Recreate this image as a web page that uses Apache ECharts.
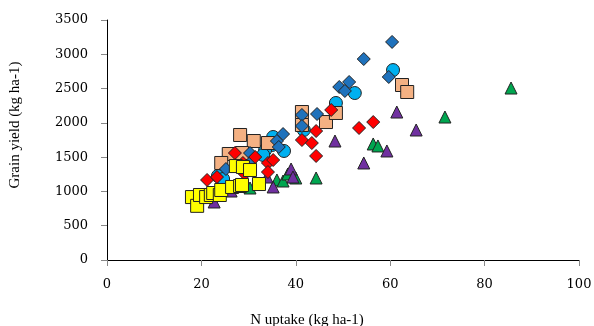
<!DOCTYPE html>
<html><head><meta charset="utf-8">
<script src="https://cdn.jsdelivr.net/npm/echarts@6/dist/echarts.min.js"></script>
<style>html,body{margin:0;padding:0;background:#fff}#c{width:594px;height:326px}</style>
</head><body><div id="c"></div>
<script>
const xTicks = [0, 20, 40, 60, 80, 100];
const yTicks = [0, 500, 1000, 1500, 2000, 2500, 3000, 3500];

const greenTri = [[30.3,1050],[36.0,1167],[37.3,1152],[38.3,1254],[40.0,1196],[44.3,1196],[56.4,1692],[57.4,1663],[71.6,2085],[85.6,2508]];
const purpleTri = [[22.7,846],[26.3,1006],[35.2,1065],[33.9,1210],[39.0,1327],[39.4,1210],[48.3,1735],[54.4,1415],[59.3,1590],[61.4,2158],[65.5,1896]];
const cyanCirc = [[60.6,2770],[52.5,2435],[48.5,2290],[41.7,1896],[35.2,1794],[35.0,1677],[37.5,1590],[33.5,1604],[33.1,1531],[23.5,1225],[24.6,1181]];
const peachSq = [[28.2,1823],[31.1,1735],[34.1,1706],[25.8,1546],[24.2,1415],[28.6,1560],[41.3,2158],[41.3,1969],[46.4,2012],[48.5,2144],[62.5,2552],[63.6,2450]];
const blueDia = [[60.4,3180],[54.4,2931],[59.7,2669],[51.3,2596],[49.2,2523],[50.4,2465],[44.5,2129],[41.3,2115],[41.3,1954],[37.3,1837],[36.0,1735],[36.4,1648],[30.3,1560],[30.3,1415],[28.2,1342],[25.2,1327]];
const redDia = [[21.2,1167],[23.3,1210],[27.1,1560],[28.8,1415],[31.4,1502],[29.2,1254],[34.1,1415],[35.2,1458],[34.1,1283],[47.5,2188],[56.4,2012],[53.4,1925],[44.3,1881],[41.3,1750],[43.4,1706],[44.3,1517]];
const yellowSq = [[18.0,918],[19.1,790],[19.7,948],[21.0,918],[22.0,948],[22.5,977],[23.9,948],[24.2,1021],[26.5,1065],[28.2,1079],[27.3,1370],[28.8,1356],[30.3,1312],[32.2,1108],[28.6,1094]];

const font = 'Liberation Serif';
const tickFont = 'DejaVu Serif';
function s(name, data, symbol, size, color) {
  return {name, type:'scatter', data, symbol, symbolSize:size,
    itemStyle:{color, borderColor:'#222', borderWidth:1, opacity:1}};
}
const chart = echarts.init(document.getElementById('c'), null, {renderer:'canvas'});
chart.setOption({
  animation:false,
  grid:{left:107, right:15, top:20, bottom:66, containLabel:false, outerBoundsMode:'none'},
  xAxis:{type:'value', min:xTicks[0], max:xTicks[xTicks.length-1], interval:20,
    name:'N uptake (kg ha-1)', nameLocation:'middle', nameGap:53,
    nameTextStyle:{fontFamily:font, fontSize:15, color:'#000', padding:[0,72,0,0]},
    axisLine:{show:true, onZero:false, lineStyle:{color:'#000', width:1}},
    axisTick:{show:true, length:6, lineStyle:{color:'#888'}},
    axisLabel:{fontFamily:tickFont, fontSize:13, color:'#000', margin:18, formatter:v=>String(v)},
    splitLine:{show:false}},
  yAxis:{type:'value', min:yTicks[0], max:yTicks[yTicks.length-1], interval:500,
    name:'Grain yield (kg ha-1)', nameLocation:'middle', nameGap:84,
    nameTextStyle:{fontFamily:font, fontSize:15, color:'#000', padding:[0,0,0,30]},
    axisLine:{show:true, lineStyle:{color:'#000', width:1}},
    axisTick:{show:true, length:6, lineStyle:{color:'#888'}},
    axisLabel:{fontFamily:tickFont, fontSize:13, color:'#000', margin:19, formatter:v=>String(v)},
    splitLine:{show:false}},
  series:[
    s('green', greenTri, 'triangle', 12, '#00A650'),
    s('purple', purpleTri, 'triangle', 12, '#7030A0'),
    s('cyan', cyanCirc, 'circle', 13, '#00B0F0'),
    s('peach', peachSq, 'rect', 13, '#F4B183'),
    s('blue', blueDia, 'diamond', 13, '#1F72BC'),
    s('red', redDia, 'diamond', 13, '#FF0000'),
    s('yellow', yellowSq, 'rect', 13, '#FFFF00')
  ]
});
</script></body></html>
